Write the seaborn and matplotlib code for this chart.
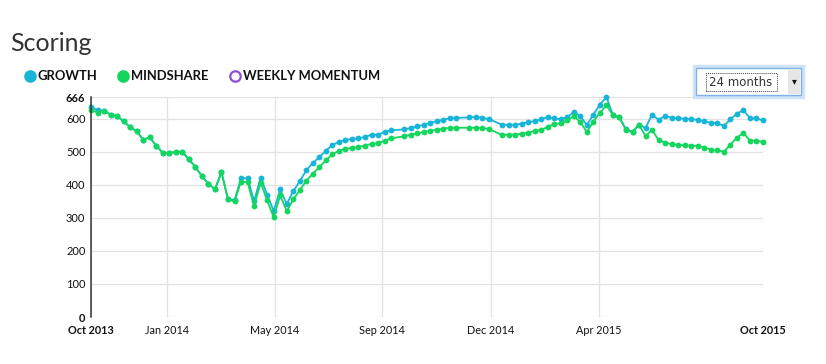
import pandas as pd
import matplotlib.pyplot as plt
from matplotlib.lines import Line2D
from matplotlib.patches import Rectangle
import seaborn as sns

# -----------------------------------------------------------------------------
# Style
# -----------------------------------------------------------------------------
sns.set_theme(style="whitegrid")
plt.rcParams["font.family"] = ["Lato", "DejaVu Sans"]

W, H = 826, 364
blue = "#17b6d8"
green = "#14d65e"
purple = "#8d4fd8"

# -----------------------------------------------------------------------------
# Data (weekly scores, None = week without a value)
# -----------------------------------------------------------------------------
weeks = list(range(104))

growth = [
    635, 626, 624, 613, 608, 592, 575, 562, 537, 544, 519, 497, 497, 499, 500,
    477, 454, 426, 403, 387, 438, 356, 354, 420, 420, 351, 422, 370, 321, 386,
    342, 381, 411, 444, 466, 484, 503, 521, 530, 536, 539, 541, 545, 552, 552,
    560, 565, None, 568, 572, 577, 582, 588, 593, 597, 602, 603, None, 604, 606,
    603, 599, None, 582, 582, 582, 585, 590, 593, 598, 606, 601, 599, 605, 621,
    608, 581, 613, 643, 666, 612, 604, 568, 560, 582, 572, 613, 597, 609, 603,
    602, 600, 598, 597, 592, 588, 586, 579, 598, 616, 626, 602, 601, 595,
]

mindshare = [
    626, 619, 624, 613, 608, 592, 575, 562, 537, 544, 519, 497, 497, 499, 500,
    477, 454, 426, 403, 387, 438, 356, 350, 410, 408, 336, 407, 353, 302, 368,
    320, 356, 384, 412, 434, 454, 474, 493, 503, 509, 512, 515, 519, 524, 526,
    534, 541, None, 547, 552, 556, 560, 564, 567, 570, 573, 573, None, 573, 573,
    572, 569, None, 551, 552, 552, 555, 558, 563, 567, 575, 585, 586, 595, 608,
    590, 560, 591, 618, 641, 611, 604, 566, 560, 582, 547, 567, 535, 528, 523,
    521, 520, 519, 518, 513, 507, 505, 500, 522, 543, 557, 534, 534, 530,
]

tick_pos = [0, 11.64, 28.2, 44.65, 61.25, 77.8, 103]
tick_labels = ["Oct 2013", "Jan 2014", "May 2014", "Sep 2014", "Dec 2014",
               "Apr 2015", "Oct 2015"]
y_ticks = [0, 100, 200, 300, 400, 500, 600, 666]

df = pd.DataFrame({"week": weeks, "GROWTH": growth, "MINDSHARE": mindshare})
df = df.melt(id_vars="week", var_name="series", value_name="score").dropna()

# -----------------------------------------------------------------------------
# Plot
# -----------------------------------------------------------------------------
fig = plt.figure(figsize=(W / 100, H / 100), dpi=100)
ax = fig.add_axes([91 / W, 47 / H, 672 / W, 220 / H])

sns.lineplot(
    data=df,
    x="week",
    y="score",
    hue="series",
    hue_order=["GROWTH", "MINDSHARE"],
    palette={"GROWTH": blue, "MINDSHARE": green},
    marker="o",
    markersize=4.2,
    markeredgewidth=0,
    linewidth=1.3,
    legend=False,
    ax=ax,
)
for line in ax.lines:
    line.set_clip_on(False)

ax.set_xlim(0, 103)
ax.set_ylim(0, 666)
ax.set_xticks(tick_pos)
ax.set_xticklabels(tick_labels)
ax.set_yticks(y_ticks)
ax.set_xlabel("")
ax.set_ylabel("")
ax.grid(True, color="#e2e2e2", lw=0.9)
ax.set_axisbelow(True)
for s in ["top", "right", "bottom"]:
    ax.spines[s].set_visible(False)
ax.spines["left"].set_color("#333333")
ax.spines["left"].set_linewidth(1.1)
ax.tick_params(axis="x", length=0, pad=6, labelsize=7.8, labelcolor="#111111")
ax.tick_params(axis="y", length=0, pad=4, labelsize=8, labelcolor="#111111")
for lab in ax.get_xticklabels():
    if lab.get_text().startswith("Oct"):
        lab.set_fontweight("bold")
for lab in ax.get_yticklabels():
    if lab.get_text() in ("0", "666"):
        lab.set_fontweight("bold")

# Title
fig.text(10 / W, 1 - 51 / H, "Scoring", fontsize=18, color="#333333",
         ha="left", va="baseline")

# Legend
leg_items = [(30, 38, "GROWTH", blue, blue),
             (123, 131, "MINDSHARE", green, green),
             (235, 243, "WEEKLY MOMENTUM", "white", purple)]
for cx, tx, name, face, edge in leg_items:
    fig.add_artist(Line2D([cx / W], [1 - 76 / H], marker="o", markersize=7.5,
                          markerfacecolor=face, markeredgecolor=edge,
                          markeredgewidth=1.6, transform=fig.transFigure))
    fig.text(tx / W, 1 - 76 / H, name, fontsize=9.4, fontweight="bold",
             color="#111111", ha="left", va="center")

# Range dropdown
def px_rect(x0, y0, x1, y1, **kw):
    fig.add_artist(Rectangle((x0 / W, 1 - y1 / H), (x1 - x0) / W, (y1 - y0) / H,
                             transform=fig.transFigure, **kw))

px_rect(694, 66, 803, 97, facecolor="none", edgecolor="#cfe3f7", lw=2.5)
px_rect(696, 68, 801, 95, facecolor="white", edgecolor="#7fb3e6", lw=1)
px_rect(788, 69, 800, 94, facecolor="#e6e6e6", edgecolor="none")
px_rect(706, 73, 777, 91, facecolor="none", edgecolor="#444444", lw=0.7,
        linestyle=(0, (1, 1)))
fig.text(741 / W, 1 - 82 / H, "24 months", fontsize=8.5, color="#333333",
         ha="center", va="center", family=["DejaVu Sans"])
fig.text(794 / W, 1 - 81 / H, "▾", fontsize=7, color="#111111",
         ha="center", va="center", family=["DejaVu Sans"])

fig.savefig("out.png", dpi=100)
